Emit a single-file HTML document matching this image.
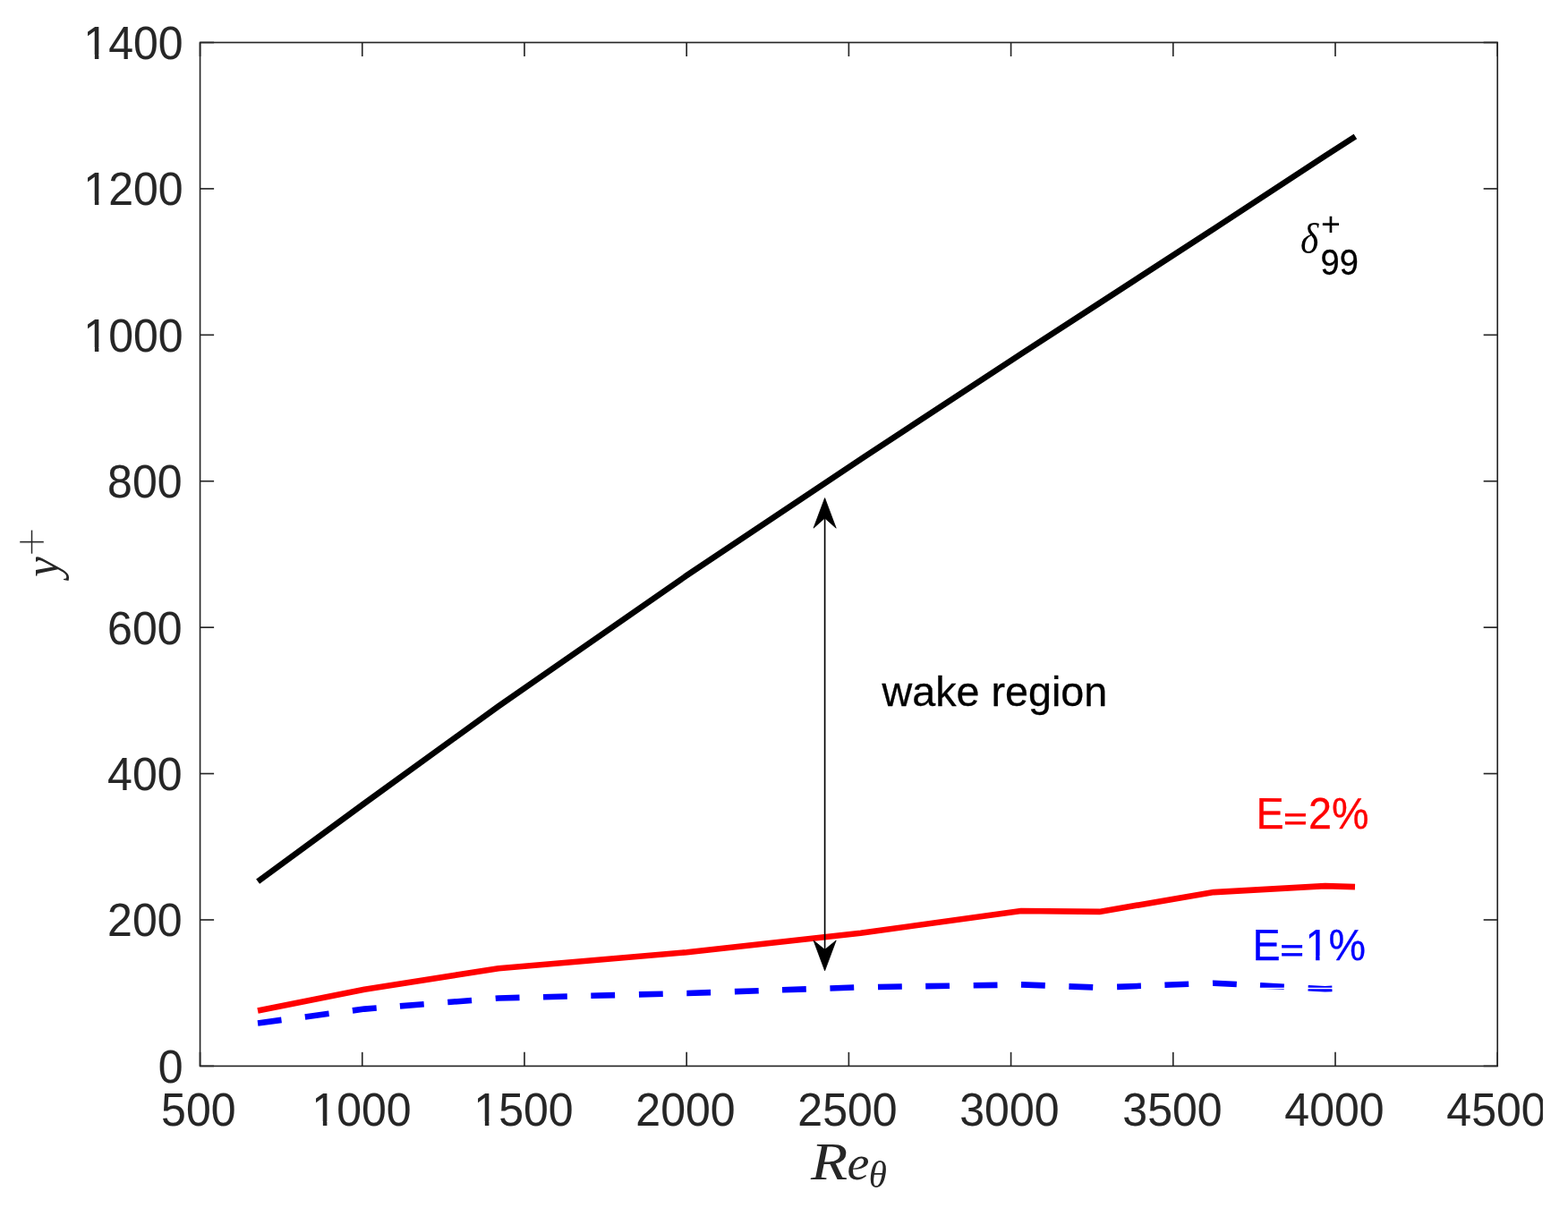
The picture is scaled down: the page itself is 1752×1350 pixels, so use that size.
<!DOCTYPE html>
<html lang="en">
<head>
<meta charset="utf-8">
<title>Wake region extent versus momentum-thickness Reynolds number</title>
<style>
html,body{margin:0;padding:0;background:#fff;}
body{width:1752px;height:1350px;overflow:hidden;}
svg{display:block;font-family:"Liberation Sans","DejaVu Sans",sans-serif;}
</style>
</head>
<body>
<svg xmlns="http://www.w3.org/2000/svg" width="1752" height="1350" viewBox="0 0 1752 1350">
<rect x="0" y="0" width="1752" height="1350" fill="#ffffff"/>

<g fill="none" stroke-width="6.60" stroke-linejoin="round" stroke-linecap="butt">
<polyline points="288.10,985.20 407.20,897.76 557.00,789.23 767.40,643.05 961.70,513.22 1141.00,395.43 1228.30,338.87 1356.30,255.69 1480.60,174.31 1514.40,152.50" stroke="#000000"/>
<polyline points="288.00,1129.60 407.20,1105.70 557.00,1082.20 767.40,1064.20 961.70,1042.80 1141.00,1018.00 1228.30,1018.90 1356.30,997.10 1480.60,990.10 1514.00,991.10" stroke="#ff0000"/>
<g stroke="#0000ff">
<polyline points="288.00,1143.40 314.50,1139.89"/>
<polyline points="340.80,1136.40 367.60,1132.85"/>
<polyline points="393.90,1129.36 407.20,1127.60 420.70,1126.51"/>
<polyline points="446.90,1124.39 473.70,1122.23"/>
<polyline points="500.25,1120.08 527.05,1117.92"/>
<polyline points="553.70,1115.77 557.00,1115.50 580.50,1114.89"/>
<polyline points="607.00,1114.19 633.80,1113.49"/>
<polyline points="660.30,1112.80 687.10,1112.10"/>
<polyline points="713.95,1111.40 740.75,1110.70"/>
<polyline points="767.30,1110.00 767.40,1110.00 794.10,1109.08"/>
<polyline points="820.90,1108.16 847.70,1107.23"/>
<polyline points="874.00,1106.32 900.80,1105.40"/>
<polyline points="927.40,1104.48 954.20,1103.56"/>
<polyline points="981.00,1102.99 1007.80,1102.55"/>
<polyline points="1034.20,1102.13 1061.00,1101.69"/>
<polyline points="1087.70,1101.26 1114.50,1100.83"/>
<polyline points="1141.00,1100.40 1167.80,1101.38"/>
<polyline points="1194.40,1102.36 1221.20,1103.34"/>
<polyline points="1248.10,1102.84 1274.90,1101.82"/>
<polyline points="1301.40,1100.80 1328.20,1099.78"/>
<polyline points="1355.00,1098.75 1356.30,1098.70 1381.80,1100.03"/>
<polyline points="1408.00,1101.40 1434.80,1102.80"/>
<polyline points="1461.60,1104.21 1480.60,1105.20 1488.40,1104.92"/>
</g>
</g>
<line x1="1404" y1="1104.55" x2="1492" y2="1104.55" stroke="#ffffff" stroke-width="1.5"/>
<g stroke="#262626" stroke-width="1.65" fill="none" stroke-linecap="butt">
<rect x="223.55" y="47.50" width="1449.65" height="1143.90"/>
<line x1="223.55" y1="1191.40" x2="223.55" y2="1175.85"/>
<line x1="223.55" y1="47.50" x2="223.55" y2="63.05"/>
<line x1="404.76" y1="1191.40" x2="404.76" y2="1175.85"/>
<line x1="404.76" y1="47.50" x2="404.76" y2="63.05"/>
<line x1="585.96" y1="1191.40" x2="585.96" y2="1175.85"/>
<line x1="585.96" y1="47.50" x2="585.96" y2="63.05"/>
<line x1="767.17" y1="1191.40" x2="767.17" y2="1175.85"/>
<line x1="767.17" y1="47.50" x2="767.17" y2="63.05"/>
<line x1="948.38" y1="1191.40" x2="948.38" y2="1175.85"/>
<line x1="948.38" y1="47.50" x2="948.38" y2="63.05"/>
<line x1="1129.58" y1="1191.40" x2="1129.58" y2="1175.85"/>
<line x1="1129.58" y1="47.50" x2="1129.58" y2="63.05"/>
<line x1="1310.79" y1="1191.40" x2="1310.79" y2="1175.85"/>
<line x1="1310.79" y1="47.50" x2="1310.79" y2="63.05"/>
<line x1="1491.99" y1="1191.40" x2="1491.99" y2="1175.85"/>
<line x1="1491.99" y1="47.50" x2="1491.99" y2="63.05"/>
<line x1="1673.20" y1="1191.40" x2="1673.20" y2="1175.85"/>
<line x1="1673.20" y1="47.50" x2="1673.20" y2="63.05"/>
<line x1="223.55" y1="1191.40" x2="239.10" y2="1191.40"/>
<line x1="1673.20" y1="1191.40" x2="1657.65" y2="1191.40"/>
<line x1="223.55" y1="1027.99" x2="239.10" y2="1027.99"/>
<line x1="1673.20" y1="1027.99" x2="1657.65" y2="1027.99"/>
<line x1="223.55" y1="864.57" x2="239.10" y2="864.57"/>
<line x1="1673.20" y1="864.57" x2="1657.65" y2="864.57"/>
<line x1="223.55" y1="701.16" x2="239.10" y2="701.16"/>
<line x1="1673.20" y1="701.16" x2="1657.65" y2="701.16"/>
<line x1="223.55" y1="537.74" x2="239.10" y2="537.74"/>
<line x1="1673.20" y1="537.74" x2="1657.65" y2="537.74"/>
<line x1="223.55" y1="374.33" x2="239.10" y2="374.33"/>
<line x1="1673.20" y1="374.33" x2="1657.65" y2="374.33"/>
<line x1="223.55" y1="210.91" x2="239.10" y2="210.91"/>
<line x1="1673.20" y1="210.91" x2="1657.65" y2="210.91"/>
<line x1="223.55" y1="47.50" x2="239.10" y2="47.50"/>
<line x1="1673.20" y1="47.50" x2="1657.65" y2="47.50"/>
</g>
<g>
<text transform="translate(263.53 1258.00) scale(1 1.0400)" fill="#262626" stroke="#262626" stroke-width="0.10" stroke-linejoin="round" text-anchor="end" style="font-size:50.00px">500</text>
<text transform="translate(459.56 1258.00) scale(1 1.0400)" fill="#262626" stroke="#262626" stroke-width="0.10" stroke-linejoin="round" text-anchor="end" style="font-size:50.00px">1000</text><rect x="349.77" y="1253.17" width="11.08" height="6.18" fill="#fff"/><rect x="365.37" y="1253.17" width="9.81" height="6.18" fill="#fff"/>
<text transform="translate(640.56 1258.00) scale(1 1.0400)" fill="#262626" stroke="#262626" stroke-width="0.10" stroke-linejoin="round" text-anchor="end" style="font-size:50.00px">1500</text><rect x="530.77" y="1253.17" width="11.08" height="6.18" fill="#fff"/><rect x="546.37" y="1253.17" width="9.81" height="6.18" fill="#fff"/>
<text transform="translate(821.56 1258.00) scale(1 1.0400)" fill="#262626" stroke="#262626" stroke-width="0.10" stroke-linejoin="round" text-anchor="end" style="font-size:50.00px">2000</text>
<text transform="translate(1002.56 1258.00) scale(1 1.0400)" fill="#262626" stroke="#262626" stroke-width="0.10" stroke-linejoin="round" text-anchor="end" style="font-size:50.00px">2500</text>
<text transform="translate(1183.53 1258.00) scale(1 1.0400)" fill="#262626" stroke="#262626" stroke-width="0.10" stroke-linejoin="round" text-anchor="end" style="font-size:50.00px">3000</text>
<text transform="translate(1365.56 1258.00) scale(1 1.0400)" fill="#262626" stroke="#262626" stroke-width="0.10" stroke-linejoin="round" text-anchor="end" style="font-size:50.00px">3500</text>
<text transform="translate(1546.56 1258.00) scale(1 1.0400)" fill="#262626" stroke="#262626" stroke-width="0.10" stroke-linejoin="round" text-anchor="end" style="font-size:50.00px">4000</text>
<text transform="translate(1727.56 1258.00) scale(1 1.0400)" fill="#262626" stroke="#262626" stroke-width="0.10" stroke-linejoin="round" text-anchor="end" style="font-size:50.00px">4500</text>
<text transform="translate(204.56 1210.00) scale(1 1.0400)" fill="#262626" stroke="#262626" stroke-width="0.10" stroke-linejoin="round" text-anchor="end" style="font-size:50.00px">0</text>
<text transform="translate(203.53 1046.00) scale(1 1.0400)" fill="#262626" stroke="#262626" stroke-width="0.10" stroke-linejoin="round" text-anchor="end" style="font-size:50.00px">200</text>
<text transform="translate(203.53 883.00) scale(1 1.0400)" fill="#262626" stroke="#262626" stroke-width="0.10" stroke-linejoin="round" text-anchor="end" style="font-size:50.00px">400</text>
<text transform="translate(203.53 720.00) scale(1 1.0400)" fill="#262626" stroke="#262626" stroke-width="0.10" stroke-linejoin="round" text-anchor="end" style="font-size:50.00px">600</text>
<text transform="translate(203.53 556.00) scale(1 1.0400)" fill="#262626" stroke="#262626" stroke-width="0.10" stroke-linejoin="round" text-anchor="end" style="font-size:50.00px">800</text>
<text transform="translate(204.56 393.00) scale(1 1.0400)" fill="#262626" stroke="#262626" stroke-width="0.10" stroke-linejoin="round" text-anchor="end" style="font-size:50.00px">1000</text><rect x="94.77" y="388.17" width="11.08" height="6.18" fill="#fff"/><rect x="110.37" y="388.17" width="9.81" height="6.18" fill="#fff"/>
<text transform="translate(204.56 229.00) scale(1 1.0400)" fill="#262626" stroke="#262626" stroke-width="0.10" stroke-linejoin="round" text-anchor="end" style="font-size:50.00px">1200</text><rect x="94.77" y="224.17" width="11.08" height="6.18" fill="#fff"/><rect x="110.37" y="224.17" width="9.81" height="6.18" fill="#fff"/>
<text transform="translate(204.56 66.00) scale(1 1.0400)" fill="#262626" stroke="#262626" stroke-width="0.10" stroke-linejoin="round" text-anchor="end" style="font-size:50.00px">1400</text><rect x="94.77" y="61.17" width="11.08" height="6.18" fill="#fff"/><rect x="110.37" y="61.17" width="9.81" height="6.18" fill="#fff"/>
</g>
<line x1="921.60" y1="575" x2="921.60" y2="1065" stroke="#000" stroke-width="1.65"/>
<path d="M921.60 556.6 L909.00 590.2 L921.60 579.0 L934.20 590.2 Z" fill="#000" stroke="#000" stroke-width="0.8" stroke-linejoin="round"/>
<path d="M921.60 1084.8 L909.00 1051.0 L921.60 1061.3 L934.20 1051.0 Z" fill="#000" stroke="#000" stroke-width="0.8" stroke-linejoin="round"/>
<text transform="translate(985.50 788.90) scale(1 1.0000)" fill="#000" stroke="#000" stroke-width="0.30" stroke-linejoin="round" text-anchor="start" style="font-size:46.70px">wake region</text>
<g><text transform="translate(1403.62 925.95) rotate(0.05) scale(1 1.0550)" fill="#ff0000" stroke="#ff0000" stroke-width="0.30" stroke-linejoin="round" text-anchor="start" style="font-size:46.70px">E</text><text transform="matrix(0.4508 0 0 0.3444 1434.35 927.04)" fill="#ff0000" style="font-family:'Liberation Sans','DejaVu Sans',sans-serif;font-style:normal;font-size:100px" stroke="#ff0000" stroke-width="2.2">=</text><text transform="translate(1462.04 925.95) rotate(0.05) scale(1 1.0550)" fill="#ff0000" stroke="#ff0000" stroke-width="0.30" stroke-linejoin="round" text-anchor="start" style="font-size:46.70px">2%</text></g>
<g><text transform="translate(1399.47 1072.90) rotate(0.05) scale(1 1.0550)" fill="#0000ff" stroke="#0000ff" stroke-width="0.30" stroke-linejoin="round" text-anchor="start" style="font-size:46.70px">E</text><text transform="matrix(0.4508 0 0 0.3444 1430.40 1073.94)" fill="#0000ff" style="font-family:'Liberation Sans','DejaVu Sans',sans-serif;font-style:normal;font-size:100px" stroke="#0000ff" stroke-width="2.2">=</text><text transform="translate(1458.49 1072.90) rotate(0.05) scale(1 1.0550)" fill="#0000ff" stroke="#0000ff" stroke-width="0.30" stroke-linejoin="round" text-anchor="start" style="font-size:46.70px">1%</text><rect x="1459.77" y="1068.17" width="10.31" height="6.18" fill="#fff"/><rect x="1474.51" y="1068.17" width="9.06" height="6.18" fill="#fff"/></g>
<g>
<text transform="matrix(0.4360 0 0 0.4879 1452.99 283.21)" fill="#000" style="font-family:'Liberation Serif','DejaVu Serif',serif;font-style:italic;font-size:100px">δ</text>
<text transform="matrix(0.3753 0 0 0.3735 1475.92 263.06)" fill="#000" style="font-family:'Liberation Sans','DejaVu Sans',sans-serif;font-style:normal;font-size:100px">+</text>
<text transform="translate(1475.59 306.60) scale(1 1.0600)" fill="#000" stroke="#000" stroke-width="0.30" stroke-linejoin="round" text-anchor="start" style="font-size:38.00px">99</text>
</g>
<g>
<text transform="matrix(0.6750 0 0 0.5908 906.04 1318.00)" fill="#262626" style="font-family:'Liberation Serif','DejaVu Serif',serif;font-style:italic;font-size:100px">R</text>
<text transform="matrix(0.5590 0 0 0.5500 946.52 1318.45)" fill="#262626" style="font-family:'Liberation Serif','DejaVu Serif',serif;font-style:italic;font-size:100px">e</text>
<text transform="matrix(0.4095 0 0 0.4197 970.85 1327.18)" fill="#262626" style="font-family:'Liberation Serif','DejaVu Serif',serif;font-style:italic;font-size:100px">θ</text>
</g>
<g transform="rotate(-90)">
<text transform="matrix(0.5075 0 0 0.5537 -644.69 65.09)" fill="#262626" style="font-family:'Liberation Serif','DejaVu Serif',serif;font-style:italic;font-size:100px">y</text>
<text transform="matrix(0.5978 0 0 0.5989 -622.59 55.49)" fill="#262626" style="font-family:'Liberation Serif','DejaVu Serif',serif;font-style:normal;font-size:100px" stroke="#fff" stroke-width="2.3">+</text>
</g>
<rect x="1723.9" y="1190" width="28.1" height="160" fill="#fff"/>
</svg>
</body>
</html>
